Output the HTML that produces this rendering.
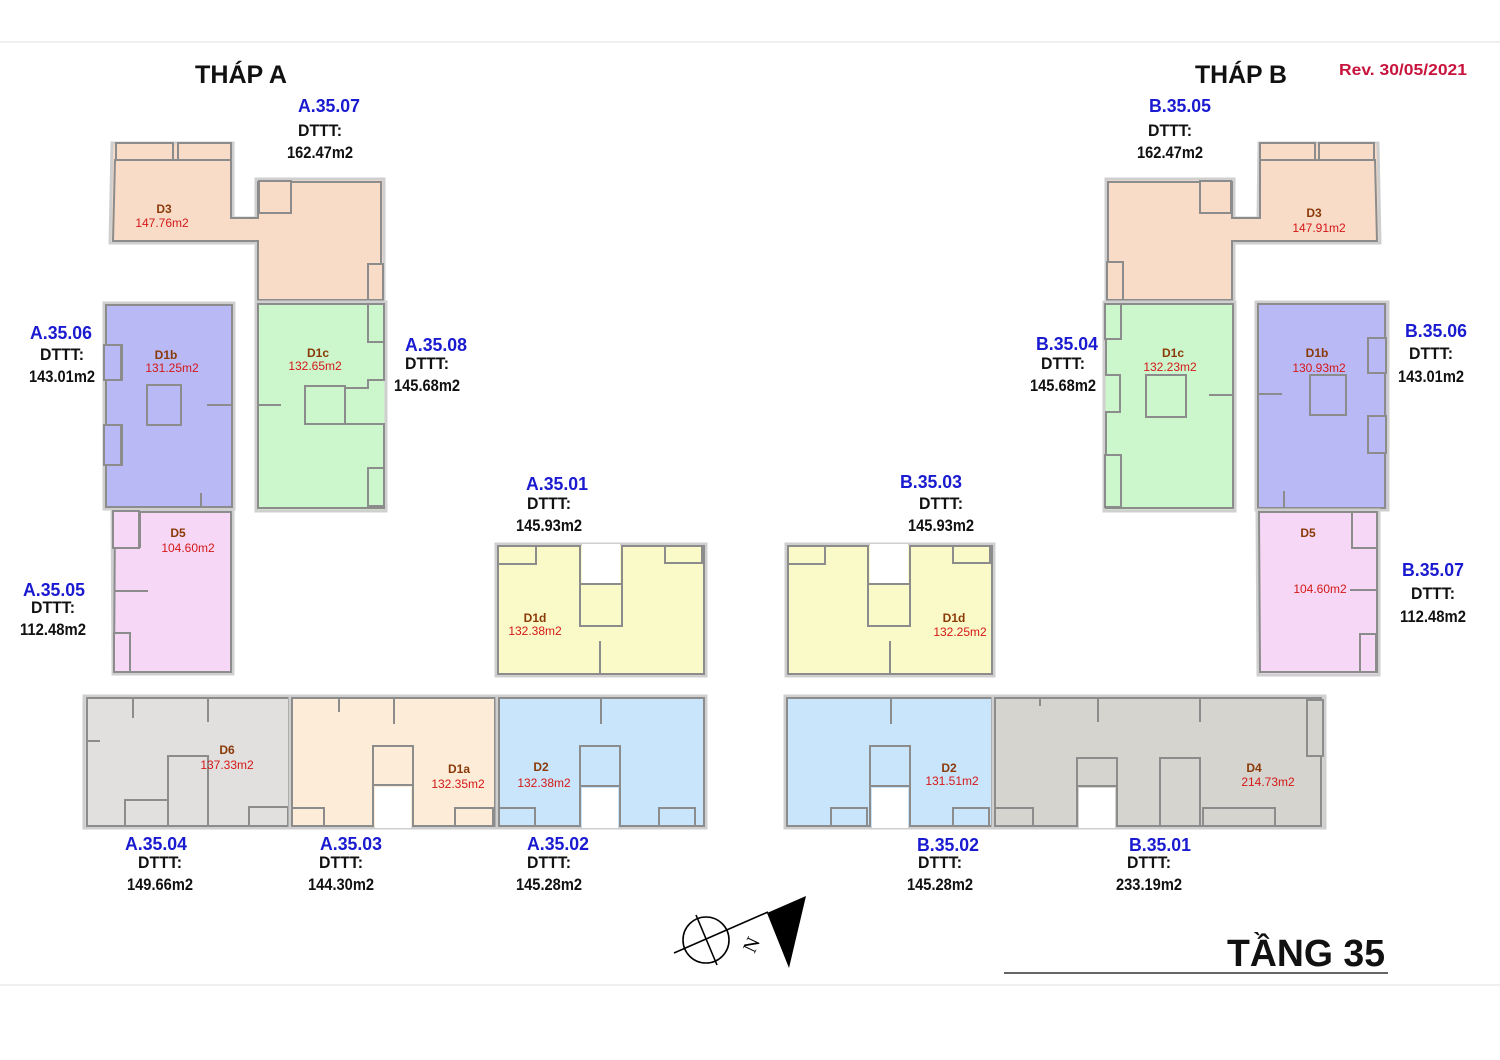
<!DOCTYPE html>
<html><head><meta charset="utf-8"><style>
html,body{margin:0;padding:0;background:#fff;}
svg{display:block;}
.w{stroke:#8c8c8c;stroke-width:2;}
.o{stroke:#cfcfcf;stroke-width:3;}
.lb{font-family:"Liberation Sans",sans-serif;font-weight:bold;fill:#1a1ad0;font-size:18px;text-anchor:middle;}
.dt{font-family:"Liberation Sans",sans-serif;font-weight:bold;fill:#111;font-size:17px;text-anchor:middle;}
.rn{font-family:"Liberation Sans",sans-serif;font-weight:bold;fill:#8a3a08;font-size:12px;text-anchor:middle;}
.ra{font-family:"Liberation Sans",sans-serif;fill:#d41818;font-size:12px;text-anchor:middle;}
.in{fill:none;stroke:#8c8c8c;stroke-width:2;}
</style></head><body>
<svg width="1500" height="1060" viewBox="0 0 1500 1060" xmlns="http://www.w3.org/2000/svg">
<rect width="1500" height="1060" fill="#fff"/>
<line x1="0" y1="42" x2="1500" y2="42" stroke="#f0f0f0" stroke-width="2"/>
<line x1="0" y1="985" x2="1500" y2="985" stroke="#f0f0f0" stroke-width="2"/>

<!-- TOWER A -->
<!-- D3 A -->
<g fill="#f8dcc8">
<polygon class="o" points="112,143 233,143 233,218 256,218 256,179 384,179 384,302 256,302 256,243 110,243"/>
<polygon class="w" points="115,160 231,160 231,218 258,218 258,182 381,182 381,300 258,300 258,241 113,241"/>
<rect class="w" x="116" y="143" width="57" height="17"/><rect class="w" x="178" y="143" width="53" height="17"/>
<rect class="w" x="259" y="181" width="32" height="32"/>
<rect class="w" x="368" y="264" width="15" height="36"/>
</g>
<!-- D1b A -->
<g fill="#b9b9f6">
<polygon class="o" points="104,303 234,303 234,509 104,509"/>
<polygon class="w" points="106,305 232,305 232,507 106,507 106,465 122,465 122,425 106,425 106,380 122,380 122,345 106,345"/>
<rect class="w" x="104" y="345" width="17" height="35"/><rect class="w" x="104" y="425" width="17" height="40"/>
<polygon class="w" points="147,385 181,385 181,425 147,425"/>
<line class="in" x1="207" y1="405" x2="232" y2="405"/>
<line class="in" x1="201" y1="493" x2="201" y2="507"/>
</g>
<!-- D1c A -->
<g fill="#ccf6cc">
<polygon class="o" points="256,302 386,302 386,511 256,511"/>
<polygon class="w" points="258,304 384,304 384,380 368,380 368,388 345,388 345,424 384,424 384,508 258,508"/>
<rect class="w" x="368" y="304" width="16" height="38"/>
<rect class="w" x="305" y="386" width="40" height="38"/>
<rect class="w" x="368" y="468" width="16" height="38"/>
<line class="in" x1="258" y1="405" x2="281" y2="405"/>
</g>
<!-- D5 A -->
<g fill="#f6d8f6">
<polygon class="o" points="112,510 233,510 233,674 113,674"/>
<polygon class="w" points="115,512 231,512 231,672 114,672"/>
<rect class="w" x="113" y="511" width="26" height="37"/>
<rect class="w" x="114" y="633" width="16" height="39"/>
<line class="in" x1="115" y1="591" x2="148" y2="591"/>
<line class="in" x1="140" y1="512" x2="140" y2="548"/>
</g>

<!-- D1d A -->
<g fill="#fafac8">
<polygon class="o" points="496,544 706,544 706,676 496,676"/>
<polygon class="w" points="498,546 580,546 580,584 622,584 622,546 704,546 704,674 498,674" fill="#fafac8"/>
<rect x="582" y="544" width="38" height="39" fill="#fff"/>
<polygon class="w" points="498,564 536,564 536,546 498,546" />
<rect class="w" x="665" y="546" width="37" height="17"/>
<rect class="w" x="580" y="584" width="42" height="42"/>
<line class="in" x1="600" y1="641" x2="600" y2="674"/>
</g>
<!-- D1d B -->
<g fill="#fafac8">
<polygon class="o" points="786,544 994,544 994,676 786,676"/>
<polygon class="w" points="788,546 868,546 868,584 910,584 910,546 992,546 992,674 788,674"/>
<rect x="870" y="544" width="38" height="39" fill="#fff"/>
<rect class="w" x="788" y="546" width="37" height="18"/>
<rect class="w" x="953" y="546" width="37" height="17"/>
<rect class="w" x="868" y="584" width="42" height="42"/>
<line class="in" x1="890" y1="641" x2="890" y2="674"/>
</g>

<!-- Bottom row A -->
<g fill="#e2dfdf">
<polygon class="o" points="84,696 291,696 291,828 84,828"/>
<polygon class="w" points="87,698 289,698 289,826 87,826"/>
<polygon class="in" points="168,826 168,756 208,756 208,826"/>
<polygon class="w" points="125,800 168,800 168,826 125,826" fill="#e2dfdf"/>
<rect class="w" x="249" y="807" width="39" height="19"/>
<line class="in" x1="87" y1="741" x2="100" y2="741"/>
<line class="in" x1="133" y1="698" x2="133" y2="718"/>
<line class="in" x1="208" y1="698" x2="208" y2="722"/>
</g>
<g fill="#fcecd8">
<polygon class="o" points="290,696 497,696 497,828 290,828"/>
<polygon class="w" points="292,698 495,698 495,826 413,826 413,785 373,785 373,826 292,826"/>
<rect x="375" y="787" width="36" height="41" fill="#fff"/>
<polygon class="in" points="373,785 373,746 413,746 413,785"/>
<rect class="w" x="292" y="808" width="32" height="18"/>
<rect class="w" x="455" y="808" width="38" height="18"/>
<line class="in" x1="339" y1="698" x2="339" y2="712"/>
<line class="in" x1="394" y1="698" x2="394" y2="724"/>
</g>
<g fill="#c9e5fb">
<polygon class="o" points="497,696 706,696 706,828 497,828"/>
<polygon class="w" points="499,698 704,698 704,826 620,826 620,786 580,786 580,826 499,826"/>
<rect x="582" y="788" width="36" height="40" fill="#fff"/>
<polygon class="in" points="580,786 580,746 620,746 620,786"/>
<rect class="w" x="499" y="808" width="36" height="18"/>
<rect class="w" x="659" y="808" width="36" height="18"/>
<line class="in" x1="601" y1="698" x2="601" y2="724"/>
</g>

<!-- Bottom row B -->
<g fill="#c9e5fb">
<polygon class="o" points="785,696 994,696 994,828 785,828"/>
<polygon class="w" points="787,698 992,698 992,826 910,826 910,786 870,786 870,826 787,826"/>
<rect x="872" y="788" width="36" height="40" fill="#fff"/>
<polygon class="in" points="870,786 870,746 910,746 910,786"/>
<rect class="w" x="831" y="808" width="36" height="18"/>
<rect class="w" x="953" y="808" width="36" height="18"/>
<line class="in" x1="891" y1="698" x2="891" y2="724"/>
</g>
<g fill="#d6d4cf">
<polygon class="o" points="993,696 1325,696 1325,828 993,828"/>
<polygon class="w" points="995,698 1321,698 1321,826 1117,826 1117,786 1077,786 1077,826 995,826"/>
<rect x="1079" y="788" width="36" height="40" fill="#fff"/>
<polygon class="in" points="1077,786 1077,758 1117,758 1117,786"/>
<polygon class="in" points="1160,826 1160,758 1200,758 1200,826"/>
<rect class="w" x="995" y="808" width="38" height="18"/>
<rect class="w" x="1203" y="808" width="72" height="18"/>
<rect class="w" x="1307" y="700" width="16" height="56"/>
<line class="in" x1="1040" y1="698" x2="1040" y2="706"/>
<line class="in" x1="1098" y1="698" x2="1098" y2="722"/>
<line class="in" x1="1200" y1="698" x2="1200" y2="722"/>
</g>

<!-- TOWER B -->
<g fill="#f8dcc8">
<polygon class="o" points="1259,143 1378,143 1380,243 1234,243 1234,302 1106,302 1106,179 1234,179 1234,218 1258,218"/>
<polygon class="w" points="1260,160 1375,160 1377,241 1232,241 1232,300 1108,300 1108,182 1232,182 1232,218 1260,218"/>
<rect class="w" x="1260" y="143" width="55" height="17"/><rect class="w" x="1319" y="143" width="55" height="17"/>
<rect class="w" x="1200" y="181" width="31" height="32"/>
<rect class="w" x="1107" y="262" width="16" height="38"/>
</g>
<g fill="#ccf6cc">
<polygon class="o" points="1104,302 1235,302 1235,511 1104,511"/>
<polygon class="w" points="1106,304 1233,304 1233,508 1106,508 1106,412 1120,412 1120,375 1106,375"/>
<rect class="w" x="1105" y="304" width="16" height="35"/>
<rect class="w" x="1105" y="455" width="16" height="52"/>
<rect class="w" x="1146" y="375" width="40" height="42"/>
<line class="in" x1="1209" y1="395" x2="1233" y2="395"/>
</g>
<g fill="#b9b9f6">
<polygon class="o" points="1256,302 1388,302 1388,510 1256,510"/>
<polygon class="w" points="1258,304 1385,304 1385,508 1258,508"/>
<rect class="w" x="1368" y="338" width="18" height="35"/><rect class="w" x="1368" y="416" width="18" height="37"/>
<rect class="w" x="1310" y="375" width="36" height="40"/>
<line class="in" x1="1258" y1="394" x2="1282" y2="394"/>
<line class="in" x1="1284" y1="491" x2="1284" y2="508"/>
</g>
<g fill="#f6d8f6">
<polygon class="o" points="1257,510 1379,510 1379,675 1258,675"/>
<polygon class="w" points="1259,512 1377,512 1377,672 1260,672"/>
<rect class="w" x="1352" y="512" width="25" height="36"/>
<rect class="w" x="1360" y="634" width="16" height="38"/>
<line class="in" x1="1350" y1="590" x2="1377" y2="590"/>
</g>

<!-- room labels -->
<text class="rn" x="164" y="213">D3</text><text class="ra" x="162" y="227">147.76m2</text>
<text class="rn" x="166" y="359">D1b</text><text class="ra" x="172" y="372">131.25m2</text>
<text class="rn" x="318" y="357">D1c</text><text class="ra" x="315" y="370">132.65m2</text>
<text class="rn" x="178" y="537">D5</text><text class="ra" x="188" y="552">104.60m2</text>
<text class="rn" x="535" y="622">D1d</text><text class="ra" x="535" y="635">132.38m2</text>
<text class="rn" x="954" y="622">D1d</text><text class="ra" x="960" y="636">132.25m2</text>
<text class="rn" x="227" y="754">D6</text><text class="ra" x="227" y="769">137.33m2</text>
<text class="rn" x="459" y="773">D1a</text><text class="ra" x="458" y="788">132.35m2</text>
<text class="rn" x="541" y="771">D2</text><text class="ra" x="544" y="787">132.38m2</text>
<text class="rn" x="949" y="772">D2</text><text class="ra" x="952" y="785">131.51m2</text>
<text class="rn" x="1254" y="772">D4</text><text class="ra" x="1268" y="786">214.73m2</text>
<text class="rn" x="1314" y="217">D3</text><text class="ra" x="1319" y="232">147.91m2</text>
<text class="rn" x="1173" y="357">D1c</text><text class="ra" x="1170" y="371">132.23m2</text>
<text class="rn" x="1317" y="357">D1b</text><text class="ra" x="1319" y="372">130.93m2</text>
<text class="rn" x="1308" y="537">D5</text><text class="ra" x="1320" y="593">104.60m2</text>

<!-- unit labels -->
<g>
<text class="lb" x="329" y="112" textLength="62" lengthAdjust="spacingAndGlyphs">A.35.07</text><text class="dt" x="320" y="136" textLength="44" lengthAdjust="spacingAndGlyphs">DTTT:</text><text class="dt" x="320" y="158" textLength="66" lengthAdjust="spacingAndGlyphs">162.47m2</text>
<text class="lb" x="61" y="339" textLength="62" lengthAdjust="spacingAndGlyphs">A.35.06</text><text class="dt" x="62" y="360" textLength="44" lengthAdjust="spacingAndGlyphs">DTTT:</text><text class="dt" x="62" y="382" textLength="66" lengthAdjust="spacingAndGlyphs">143.01m2</text>
<text class="lb" x="436" y="351" textLength="62" lengthAdjust="spacingAndGlyphs">A.35.08</text><text class="dt" x="427" y="369" textLength="44" lengthAdjust="spacingAndGlyphs">DTTT:</text><text class="dt" x="427" y="391" textLength="66" lengthAdjust="spacingAndGlyphs">145.68m2</text>
<text class="lb" x="54" y="596" textLength="62" lengthAdjust="spacingAndGlyphs">A.35.05</text><text class="dt" x="53" y="613" textLength="44" lengthAdjust="spacingAndGlyphs">DTTT:</text><text class="dt" x="53" y="635" textLength="66" lengthAdjust="spacingAndGlyphs">112.48m2</text>
<text class="lb" x="557" y="490" textLength="62" lengthAdjust="spacingAndGlyphs">A.35.01</text><text class="dt" x="549" y="509" textLength="44" lengthAdjust="spacingAndGlyphs">DTTT:</text><text class="dt" x="549" y="531" textLength="66" lengthAdjust="spacingAndGlyphs">145.93m2</text>
<text class="lb" x="931" y="488" textLength="62" lengthAdjust="spacingAndGlyphs">B.35.03</text><text class="dt" x="941" y="509" textLength="44" lengthAdjust="spacingAndGlyphs">DTTT:</text><text class="dt" x="941" y="531" textLength="66" lengthAdjust="spacingAndGlyphs">145.93m2</text>
<text class="lb" x="1180" y="112" textLength="62" lengthAdjust="spacingAndGlyphs">B.35.05</text><text class="dt" x="1170" y="136" textLength="44" lengthAdjust="spacingAndGlyphs">DTTT:</text><text class="dt" x="1170" y="158" textLength="66" lengthAdjust="spacingAndGlyphs">162.47m2</text>
<text class="lb" x="1067" y="350" textLength="62" lengthAdjust="spacingAndGlyphs">B.35.04</text><text class="dt" x="1063" y="369" textLength="44" lengthAdjust="spacingAndGlyphs">DTTT:</text><text class="dt" x="1063" y="391" textLength="66" lengthAdjust="spacingAndGlyphs">145.68m2</text>
<text class="lb" x="1436" y="337" textLength="62" lengthAdjust="spacingAndGlyphs">B.35.06</text><text class="dt" x="1431" y="359" textLength="44" lengthAdjust="spacingAndGlyphs">DTTT:</text><text class="dt" x="1431" y="382" textLength="66" lengthAdjust="spacingAndGlyphs">143.01m2</text>
<text class="lb" x="1433" y="576" textLength="62" lengthAdjust="spacingAndGlyphs">B.35.07</text><text class="dt" x="1433" y="599" textLength="44" lengthAdjust="spacingAndGlyphs">DTTT:</text><text class="dt" x="1433" y="622" textLength="66" lengthAdjust="spacingAndGlyphs">112.48m2</text>
<text class="lb" x="156" y="850" textLength="62" lengthAdjust="spacingAndGlyphs">A.35.04</text><text class="dt" x="160" y="868" textLength="44" lengthAdjust="spacingAndGlyphs">DTTT:</text><text class="dt" x="160" y="890" textLength="66" lengthAdjust="spacingAndGlyphs">149.66m2</text>
<text class="lb" x="351" y="850" textLength="62" lengthAdjust="spacingAndGlyphs">A.35.03</text><text class="dt" x="341" y="868" textLength="44" lengthAdjust="spacingAndGlyphs">DTTT:</text><text class="dt" x="341" y="890" textLength="66" lengthAdjust="spacingAndGlyphs">144.30m2</text>
<text class="lb" x="558" y="850" textLength="62" lengthAdjust="spacingAndGlyphs">A.35.02</text><text class="dt" x="549" y="868" textLength="44" lengthAdjust="spacingAndGlyphs">DTTT:</text><text class="dt" x="549" y="890" textLength="66" lengthAdjust="spacingAndGlyphs">145.28m2</text>
<text class="lb" x="948" y="851" textLength="62" lengthAdjust="spacingAndGlyphs">B.35.02</text><text class="dt" x="940" y="868" textLength="44" lengthAdjust="spacingAndGlyphs">DTTT:</text><text class="dt" x="940" y="890" textLength="66" lengthAdjust="spacingAndGlyphs">145.28m2</text>
<text class="lb" x="1160" y="851" textLength="62" lengthAdjust="spacingAndGlyphs">B.35.01</text><text class="dt" x="1149" y="868" textLength="44" lengthAdjust="spacingAndGlyphs">DTTT:</text><text class="dt" x="1149" y="890" textLength="66" lengthAdjust="spacingAndGlyphs">233.19m2</text>
</g>

<!-- titles -->
<text x="241" y="83" font-family="Liberation Sans, sans-serif" font-weight="bold" font-size="25" text-anchor="middle" fill="#111" textLength="92" lengthAdjust="spacingAndGlyphs">THÁP A</text>
<text x="1241" y="83" font-family="Liberation Sans, sans-serif" font-weight="bold" font-size="25" text-anchor="middle" fill="#111" textLength="92" lengthAdjust="spacingAndGlyphs">THÁP B</text>
<text x="1403" y="75" font-family="Liberation Sans, sans-serif" font-weight="bold" font-size="16" text-anchor="middle" fill="#c8143c" textLength="128" lengthAdjust="spacingAndGlyphs">Rev. 30/05/2021</text>
<text x="1306" y="966" font-family="Liberation Sans, sans-serif" font-weight="bold" font-size="38" text-anchor="middle" fill="#111" textLength="158" lengthAdjust="spacingAndGlyphs">TẦNG 35</text>
<line x1="1004" y1="973" x2="1388" y2="973" stroke="#333" stroke-width="1.5"/>

<!-- compass -->
<g stroke="#000" stroke-width="1.6" fill="none">
<circle cx="706" cy="940" r="23"/>
<line x1="674" y1="953" x2="768" y2="912"/>
<line x1="696" y1="915" x2="717" y2="965"/>
</g>
<polygon points="767,913 806,896 789,968" fill="#000"/>
<text x="752" y="951" font-family="Liberation Serif, serif" font-size="20" fill="#000" text-anchor="middle" transform="rotate(-65 752 945)">N</text>
</svg>
</body></html>
